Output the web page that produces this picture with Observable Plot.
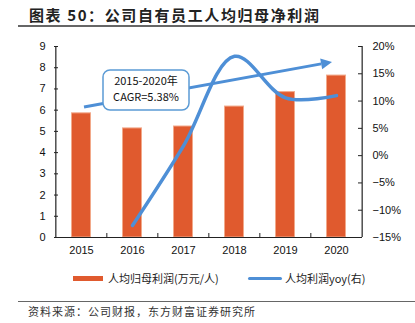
<!DOCTYPE html>
<html><head><meta charset="utf-8">
<script src="https://cdn.jsdelivr.net/npm/d3@7"></script>
<script src="https://cdn.jsdelivr.net/npm/@observablehq/plot@0.6"></script>
<style>
body{margin:0;background:#fff;width:415px;height:323px;position:relative;overflow:hidden;font-family:"Noto Sans CJK SC",sans-serif;}
#title{position:absolute;left:29px;top:4px;font-size:15px;font-weight:bold;letter-spacing:1.6px;color:#222;line-height:22px;white-space:nowrap}
.hr{position:absolute;left:18px;right:0;height:1.5px;background:#666}
#chart{position:absolute;left:0;top:0}
.lg{position:absolute;font-size:11px;line-height:16px;top:270px;color:#222;white-space:nowrap}
#source{position:absolute;left:28px;top:303px;font-size:11px;line-height:16px;letter-spacing:1px;color:#333;white-space:nowrap}
</style></head>
<body>
<div id="title">图表 50：公司自有员工人均归母净利润</div>
<div class="hr" style="top:25px"></div>
<div id="chart"></div>
<div style="position:absolute;left:73px;top:275.5px;width:30px;height:5px;background:#E05A2E"></div>
<div class="lg" style="left:108px">人均归母利润(万元/人)</div>
<div style="position:absolute;left:248px;top:276.5px;width:34px;height:3.5px;border-radius:2px;background:#4E8FD6"></div>
<div class="lg" style="left:285px">人均利润yoy(右)</div>
<div class="hr" style="top:300.5px"></div>
<div id="source">资料来源：公司财报，东方财富证券研究所</div>
<script>
const years = ["2015", "2016", "2017", "2018", "2019", "2020"];
const profitPerCapita = [5.85, 5.14, 5.23, 6.17, 6.85, 7.63];
const yoyPct = [null, -12.8, 1.8, 18.2, 10.6, 11.0];
const leftTicks = [0, 1, 2, 3, 4, 5, 6, 7, 8, 9];
const rightTicks = [-15, -10, -5, 0, 5, 10, 15, 20];
const cagrText = ["2015-2020年", "CAGR=5.38%"];
const arrowFrom = {year: "2015", value: 6.13};
const arrowTo = {year: "2020", value: 8.25};

const table = years.map((year, i) => ({year, profit: profitPerCapita[i], yoy: yoyPct[i]}));
const W = 415, H = 323, ml = 54, mr = 53, mt = 46, mb = 86;
const frameW = W - ml - mr, frameH = H - mt - mb;
const step = frameW / years.length;
const rMin = rightTicks[0], rMax = rightTicks[rightTicks.length - 1];
const lMax = leftTicks[leftTicks.length - 1];
const toLeft = v => (v - rMin) / (rMax - rMin) * lMax;
const fmtRight = v => { const p = Math.round(v * (rMax - rMin) / lMax + rMin); return (p < 0 ? "\u2212" + (-p) : p) + "%"; };
const axisColor = "#222";
const blue = "#4E8FD6";

const chart = Plot.plot({
  width: W, height: H,
  marginLeft: ml, marginRight: mr, marginTop: mt, marginBottom: mb,
  style: {fontFamily: "'Liberation Sans', Arial, sans-serif", fontSize: "11px", color: "#111", background: "transparent"},
  x: {type: "band", domain: years, paddingInner: 0.61, paddingOuter: 0.305, label: null},
  y: {domain: [0, lMax], label: null},
  marks: [
    Plot.barY(table, {x: "year", y: "profit", fill: "#E05A2E", stroke: "#F2A98A", strokeWidth: 1, insetLeft: 0.5, insetRight: 0.5}),
    Plot.ruleY([0], {stroke: axisColor, strokeWidth: 1.2}),
    Plot.ruleX([years[0]], {x: d => d, dx: -step / 2, stroke: axisColor, strokeWidth: 1.2}),
    Plot.ruleX([years[years.length - 1]], {x: d => d, dx: step / 2, stroke: axisColor, strokeWidth: 1.2}),
    Plot.ruleY(leftTicks, {y: d => d, insetRight: frameW - 4, stroke: axisColor}),
    Plot.ruleY(rightTicks.map(toLeft), {y: d => d, insetLeft: frameW - 4, stroke: axisColor}),
    Plot.ruleX(years.slice(1), {x: d => d, dx: -step / 2, insetTop: frameH - 4, stroke: axisColor}),
    Plot.axisY(leftTicks, {anchor: "left", tickSize: 0, tickPadding: 9, fontSize: 11}),
    Plot.axisY(rightTicks.map(toLeft), {anchor: "right", tickSize: 0, tickPadding: 10, tickFormat: fmtRight, fontSize: 11}),
    Plot.axisX(years, {anchor: "bottom", tickSize: 0, tickPadding: 9, fontSize: 11}),
    Plot.lineY(table.filter(d => d.yoy != null), {x: "year", y: d => toLeft(d.yoy), stroke: blue, strokeWidth: 3.5, curve: "catmull-rom", strokeLinecap: "round"})
  ]
});
document.getElementById("chart").appendChild(chart);

// annotations: CAGR arrow and callout
const xs = chart.scale("x"), ys = chart.scale("y");
const cx = v => xs.apply(v) + xs.bandwidth / 2;
const svg = d3.select(chart);
const g = svg.append("g");
const x1 = cx(arrowFrom.year) + 3, y1 = ys.apply(arrowFrom.value);
const x2 = cx(arrowTo.year) - 4, y2 = ys.apply(arrowTo.value);
const ang = Math.atan2(y2 - y1, x2 - x1), hl = 11, hw = 5.5;
const bx = x2 - hl * Math.cos(ang), by = y2 - hl * Math.sin(ang);
g.append("line").attr("x1", x1).attr("y1", y1).attr("x2", bx).attr("y2", by)
  .attr("stroke", blue).attr("stroke-width", 3);
g.append("path").attr("fill", blue)
  .attr("d", `M${x2},${y2}L${bx - hw * Math.sin(ang)},${by + hw * Math.cos(ang)}L${bx + hw * Math.sin(ang)},${by - hw * Math.cos(ang)}Z`);
g.append("rect").attr("x", 103).attr("y", 70).attr("width", 86).attr("height", 40).attr("rx", 7)
  .attr("fill", "#fff").attr("stroke", "#5B9BD5").attr("stroke-width", 1.5);
cagrText.forEach((t, i) => {
  g.append("text").attr("x", 146).attr("y", 81.5 + i * 16).attr("dy", "0.35em").attr("text-anchor", "middle")
    .attr("font-family", "'Noto Sans CJK SC', sans-serif").attr("font-size", 11).attr("fill", "#111").text(t);
});
</script>
</body></html>
